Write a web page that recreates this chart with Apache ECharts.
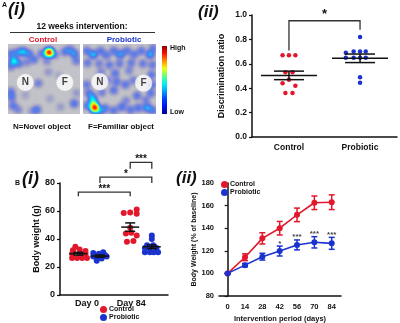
<!DOCTYPE html>
<html>
<head>
<meta charset="utf-8">
<script src="https://cdn.jsdelivr.net/npm/echarts@6/dist/echarts.min.js"></script>
<style>
  html, body { margin: 0; padding: 0; background: #fff; }
  #chart { width: 400px; height: 323px; }
</style>
</head>
<body>
<div id="chart"></div>
<script>
const RED = '#e3172b'
const BLUE = '#1a33cf'
const INK = '#111'
const FONT = 'Liberation Sans'

// ---- A(i): tracking heat maps, [x, y, weight] on a 10x10 arena (y up)
const CTRL_HEAT = [
  [0.8, 7.6, 0.9], [0.5, 8.6, 0.5], [1.4, 8.8, 0.5], [2.1, 8.9, 0.7], [2.9, 8.6, 0.5],
  [3.6, 7.8, 0.45], [1.5, 7.2, 0.45], [0.4, 6.8, 0.4], [2.6, 7.4, 0.3], [4.7, 8.6, 0.45],
  [5.7, 8.8, 1.0], [5.7, 8.8, 1.0], [5.7, 8.8, 1.0], [6.5, 8.5, 0.4], [5.4, 7.6, 0.3],
  [7.9, 8.9, 0.45], [8.6, 9.2, 0.45], [9.2, 8.6, 0.6], [9.5, 7.6, 0.4], [0.4, 3.2, 0.4],
  [0.5, 2.4, 0.45], [0.7, 1.2, 0.45], [1.4, 0.6, 0.3], [4.0, 0.6, 0.5], [3.3, 0.4, 0.2],
  [9.2, 1.5, 0.5], [9.5, 3.0, 0.2], [4.2, 4.4, 0.35], [5.6, 6.0, 0.2], [2.4, 2.7, 0.15],
  [5.8, 2.2, 0.15], [7.0, 5.5, 0.12], [7.3, 1.0, 0.18]
]
const PROB_HEAT = [
  [0.5, 9.0, 0.45], [1.4, 8.5, 0.75], [2.4, 9.0, 0.45], [3.2, 8.4, 0.45], [4.2, 9.0, 0.45],
  [5.1, 8.5, 0.65], [6.0, 9.0, 0.45], [7.0, 8.5, 0.45], [8.0, 9.0, 0.45], [9.2, 8.5, 0.7],
  [9.6, 9.4, 0.4], [0.6, 7.3, 0.4], [2.2, 7.2, 0.35], [3.6, 7.0, 0.4], [5.0, 7.2, 0.4],
  [6.6, 7.3, 0.4], [8.2, 7.2, 0.4], [9.5, 7.0, 0.4], [4.4, 5.8, 0.45], [4.6, 4.6, 0.45],
  [4.2, 3.4, 0.45], [5.8, 4.2, 0.45], [6.9, 4.8, 0.35], [9.4, 5.6, 0.45], [9.5, 4.2, 0.45],
  [9.3, 3.0, 0.45], [0.5, 4.2, 0.4], [0.8, 3.0, 0.45], [2.6, 3.1, 0.35], [7.4, 2.6, 0.45],
  [6.3, 6.2, 0.3], [2.5, 6.0, 0.3], [3.4, 4.8, 0.3], [5.9, 1.9, 0.3], [3.0, 0.8, 0.5],
  [4.2, 0.5, 0.45], [5.3, 1.0, 0.5], [6.5, 0.6, 0.45], [7.6, 0.9, 0.5], [8.8, 0.9, 0.7],
  [9.6, 0.5, 0.45], [8.6, 2.0, 0.35], [1.6, 0.9, 1.0], [1.6, 0.9, 1.0], [1.6, 0.9, 1.0],
  [1.4, 1.7, 0.9], [1.3, 2.4, 0.6], [0.6, 1.2, 0.5], [2.3, 0.4, 0.5]
]
const CTRL_OBJECTS = [[2.4, 4.5, 'N'], [7.9, 4.5, 'F']]
const PROB_OBJECTS = [[2.3, 4.6, 'N'], [8.3, 4.4, 'F']]
const HEAT_COLORS = ['#00008c', '#0010f0', '#0040ff', '#00a0ff', '#00f0f0', '#60ff80', '#f0ff10', '#ff9000', '#ff1000', '#8c0000']

// ---- A(ii): discrimination ratio
const DR_GROUPS = ['Control', 'Probiotic']
const DR_CTRL = [0.67, 0.67, 0.67, 0.53, 0.53, 0.47, 0.44, 0.42, 0.36, 0.36]
const DR_CTRL_X = [-0.09, 0, 0.09, -0.05, 0.05, 0, -0.09, 0.09, -0.05, 0.05]
const DR_PROB = [0.82, 0.70, 0.70, 0.70, 0.69, 0.65, 0.65, 0.65, 0.65, 0.49, 0.445]
const DR_PROB_X = [0, -0.09, 0, 0.08, -0.2, -0.2, -0.09, 0, 0.08, 0, 0]
const DR_MEAN = [0.505, 0.645]
const DR_SEM = [0.035, 0.035]
const DR_BRACKET = [[1, 2, 0.953, 0.71, 0.88, '*']]

// ---- B(i): body weight (g)
const BW_DAYS = ['Day 0', 'Day 84']
const BW_DAY_POS = [1.25, 3.3]
const BW_POS = [0.85, 1.85, 3.25, 4.25] // control d0, probiotic d0, control d84, probiotic d84
const BW_VALUES = [
  [26.5, 26.5, 26.5, 26.5, 29.5, 29.5, 29.5, 32, 32.5, 31.5, 34.5],
  [30, 27.5, 27.5, 24.5, 27.5, 30.5, 28.5, 27.5, 26, 29.5],
  [58.5, 59, 61, 58, 48, 44, 44.5, 42.5, 38, 38.5],
  [42.5, 40, 35.5, 35.5, 33.5, 33.5, 33.5, 30.5, 30.5, 30.5, 30.5]
]
const BW_JITTER = [
  [-0.29, -0.06, 0.17, 0.40, -0.29, 0.10, 0.33, -0.25, 0.06, 0.33, -0.14],
  [-0.31, -0.31, -0.15, -0.15, 0, 0.15, 0.23, 0.31, 0.08, -0.05],
  [-0.30, 0, 0.30, 0.30, 0, -0.20, 0.05, 0.30, -0.15, 0.15],
  [0, 0, -0.22, 0.06, -0.32, -0.09, 0.22, -0.32, -0.09, 0.09, 0.29]
]
const BW_MEAN = [29.5, 27.8, 48.5, 34.4]
const BW_SEM = [1, 0.8, 3, 1.3]
const BW_BRACKETS = [
  [0.85, 3.25, 73.5, 70.5, 70.5, '***'],
  [1.85, 4.25, 84.2, 80, 80, '*'],
  [3.25, 4.25, 94.7, 90.2, 90.2, '***']
]

// ---- B(ii): body weight (% of baseline)
const DAYS = [0, 14, 28, 42, 56, 70, 84]
const PCT_CTRL = [100, 114.3, 131, 140, 151.8, 162.5, 163]
const PCT_CTRL_ERR = [0, 3, 5, 6, 6, 6, 6.5]
const PCT_PROB = [100, 107.3, 114.8, 119.8, 125.2, 127.5, 126.6]
const PCT_PROB_ERR = [0, 1.5, 3, 4.4, 4.4, 5, 5.3]
const PCT_STARS = [[42, 126, '*'], [56, 132.5, '***'], [70, 135, '***'], [84, 134.5, '***']]

echarts.registerMap('arena', {
  type: 'FeatureCollection',
  features: [{
    type: 'Feature',
    properties: { name: 'arena' },
    geometry: { type: 'Polygon', coordinates: [[[0, 0], [10, 0], [10, 10], [0, 10], [0, 0]]] }
  }]
})

const chart = echarts.init(document.getElementById('chart'), null, { renderer: 'canvas' })

const bold = (size, color) => ({ fontFamily: FONT, fontWeight: 'bold', fontSize: size, color: color || INK })

const arena = (left, width) => ({
  map: 'arena', left, top: 44, width, height: 70, aspectScale: 1, roam: false, silent: true,
  itemStyle: { areaColor: '#c2c3c9', borderWidth: 0 },
  emphasis: { disabled: true }, select: { disabled: true }, label: { show: false }
})

const valueAxis = (gridIndex, min, max, interval, fmt, size) => ({
  type: 'value', gridIndex, min, max, interval,
  axisLine: { show: true, lineStyle: { color: INK, width: 1.5 } },
  axisTick: { show: true, length: 3, lineStyle: { color: INK, width: 1.2 } },
  axisLabel: { ...bold(size), margin: 5, formatter: fmt },
  splitLine: { show: false }
})

const xAxisWith = (gridIndex, min, max, values, fmt, size, margin) => ({
  type: 'value', gridIndex, min, max,
  axisLine: { show: true, onZero: false, lineStyle: { color: INK, width: 1.5 } },
  axisTick: { show: false },
  axisLabel: { ...bold(size), margin, customValues: values, formatter: fmt },
  splitLine: { show: false }
})

function meanSem(hwMean, hwSem) {
  return (params, api) => {
    const x = api.value(0), m = api.value(1), s = api.value(2)
    const c = api.coord([x, m]), hi = api.coord([x, m + s]), lo = api.coord([x, m - s])
    const style = { stroke: INK, lineWidth: 1.5 }
    return {
      type: 'group',
      children: [
        { type: 'line', shape: { x1: c[0] - hwMean, y1: c[1], x2: c[0] + hwMean, y2: c[1] }, style },
        { type: 'line', shape: { x1: c[0] - hwSem, y1: hi[1], x2: c[0] + hwSem, y2: hi[1] }, style },
        { type: 'line', shape: { x1: c[0] - hwSem, y1: lo[1], x2: c[0] + hwSem, y2: lo[1] }, style },
        { type: 'line', shape: { x1: c[0], y1: hi[1], x2: c[0], y2: lo[1] }, style }
      ]
    }
  }
}

function bracket(fontSize, lift) {
  return (params, api) => {
    const a = api.coord([api.value(0), api.value(2)])
    const b = api.coord([api.value(1), api.value(2)])
    const la = api.coord([api.value(0), api.value(3)])
    const lb = api.coord([api.value(1), api.value(4)])
    return {
      type: 'group',
      children: [
        { type: 'polyline', shape: { points: [[la[0], la[1]], [a[0], a[1]], [b[0], b[1]], [lb[0], lb[1]]] },
          style: { stroke: '#333', lineWidth: 1.3, fill: null } },
        { type: 'text', style: { text: api.value(5), x: (a[0] + b[0]) / 2, y: a[1] - lift,
          textAlign: 'center', textVerticalAlign: 'middle', fill: INK,
          font: `bold ${fontSize}px "${FONT}"` } }
      ]
    }
  }
}

function errorBars(color) {
  return (params, api) => {
    const top = api.coord([api.value(0), api.value(2)])
    const bot = api.coord([api.value(0), api.value(1)])
    const style = { stroke: color, lineWidth: 1.5 }
    return {
      type: 'group',
      children: [
        { type: 'line', shape: { x1: top[0], y1: top[1], x2: bot[0], y2: bot[1] }, style },
        { type: 'line', shape: { x1: top[0] - 3, y1: top[1], x2: top[0] + 3, y2: top[1] }, style },
        { type: 'line', shape: { x1: bot[0] - 3, y1: bot[1], x2: bot[0] + 3, y2: bot[1] }, style }
      ]
    }
  }
}

const heatSeries = (geoIndex, data) => ({
  type: 'heatmap', coordinateSystem: 'geo', geoIndex, data, silent: true,
  pointSize: 3, blurSize: 5, minOpacity: 0, maxOpacity: 2.4
})

const objectSeries = (geoIndex, data) => ({
  type: 'scatter', coordinateSystem: 'geo', geoIndex, data, z: 5, silent: true,
  symbolSize: 17, itemStyle: { color: '#fff', borderColor: '#ddd', borderWidth: 0.5 },
  label: { show: true, position: 'inside', formatter: p => p.value[2], ...bold(10) }
})

const legendAt = (left, top) => ({
  data: ['Control', 'Probiotic'], orient: 'vertical', left, top, padding: 0,
  itemWidth: 7, itemHeight: 7, itemGap: 1, icon: 'circle', selectedMode: false,
  textStyle: { ...bold(7), padding: [0, 0, 0, -3] }
})

const colorStops = HEAT_COLORS.map((c, i) => ({ offset: i / (HEAT_COLORS.length - 1), color: c }))

const bwSeries = [0, 1, 2, 3].map(g => ({
  name: g % 2 === 0 ? 'Control' : 'Probiotic',
  type: 'scatter', xAxisIndex: 1, yAxisIndex: 1, symbolSize: 6,
  itemStyle: { color: g % 2 === 0 ? RED : BLUE, opacity: 1 },
  data: BW_VALUES[g].map((v, i) => [BW_POS[g] + BW_JITTER[g][i], v])
}))

chart.setOption({
  backgroundColor: '#fff',
  animation: false,
  textStyle: { fontFamily: FONT },
  geo: [arena(8, 72), arena(83, 73)],
  visualMap: {
    type: 'continuous', show: false, min: 0, max: 1, seriesIndex: [0, 1],
    inRange: { color: HEAT_COLORS }
  },
  legend: [legendAt(100, 306), legendAt(221, 181)],
  grid: [
    { left: 252, top: 15, width: 145, height: 122, outerBoundsMode: 'none' },
    { left: 60, top: 183, width: 108, height: 112, outerBoundsMode: 'none' },
    { left: 219, top: 183, width: 122, height: 113, outerBoundsMode: 'none' }
  ],
  xAxis: [
    xAxisWith(0, 0.48, 2.52, [1, 2], v => DR_GROUPS[Math.round(v) - 1], 8.5, 6),
    xAxisWith(1, 0, 5, BW_DAY_POS, v => BW_DAYS[BW_DAY_POS.indexOf(v)], 9, 4),
    { ...xAxisWith(2, -7, 91.5, DAYS, v => v, 7.5, 7),
      name: 'Intervention period (days)', nameLocation: 'middle', nameGap: 19, nameTextStyle: bold(7.5) }
  ],
  yAxis: [
    { ...valueAxis(0, 0, 1, 0.2, v => v.toFixed(1), 8.5),
      name: 'Discrimination ratio', nameLocation: 'middle', nameGap: 26, nameTextStyle: bold(9) },
    { ...valueAxis(1, 0, 80, 20, v => v, 9),
      name: 'Body weight (g)', nameLocation: 'middle', nameGap: 19, nameTextStyle: bold(9) },
    { ...valueAxis(2, 80, 180, 20, v => v, 7.5),
      name: 'Body Weight (% of baseline)', nameLocation: 'middle', nameGap: 19, nameTextStyle: bold(7) }
  ],
  series: [
    heatSeries(0, CTRL_HEAT),
    heatSeries(1, PROB_HEAT),
    objectSeries(0, CTRL_OBJECTS),
    objectSeries(1, PROB_OBJECTS),

    { name: 'Control', type: 'scatter', xAxisIndex: 0, yAxisIndex: 0, symbolSize: 4.5,
      itemStyle: { color: RED, opacity: 1 }, data: DR_CTRL.map((v, i) => [1 + DR_CTRL_X[i], v]) },
    { name: 'Probiotic', type: 'scatter', xAxisIndex: 0, yAxisIndex: 0, symbolSize: 4.5,
      itemStyle: { color: BLUE, opacity: 1 }, data: DR_PROB.map((v, i) => [2 + DR_PROB_X[i], v]) },
    { type: 'custom', xAxisIndex: 0, yAxisIndex: 0, z: 4, silent: true, renderItem: meanSem(28, 15),
      data: DR_MEAN.map((m, i) => [i + 1, m, DR_SEM[i]]) },
    { type: 'custom', xAxisIndex: 0, yAxisIndex: 0, silent: true, renderItem: bracket(13, 6), data: DR_BRACKET },

    ...bwSeries,
    { type: 'custom', xAxisIndex: 1, yAxisIndex: 1, z: 4, silent: true, renderItem: meanSem(9, 5),
      data: BW_MEAN.map((m, i) => [BW_POS[i], m, BW_SEM[i]]) },
    { type: 'custom', xAxisIndex: 1, yAxisIndex: 1, silent: true, clip: false, renderItem: bracket(10, 3), data: BW_BRACKETS },

    { type: 'custom', xAxisIndex: 2, yAxisIndex: 2, silent: true, renderItem: errorBars(RED),
      data: DAYS.map((d, i) => [d, PCT_CTRL[i] - PCT_CTRL_ERR[i], PCT_CTRL[i] + PCT_CTRL_ERR[i]]) },
    { type: 'custom', xAxisIndex: 2, yAxisIndex: 2, silent: true, renderItem: errorBars(BLUE),
      data: DAYS.map((d, i) => [d, PCT_PROB[i] - PCT_PROB_ERR[i], PCT_PROB[i] + PCT_PROB_ERR[i]]) },
    { name: 'Control', type: 'line', xAxisIndex: 2, yAxisIndex: 2, symbol: 'circle', symbolSize: 6,
      itemStyle: { color: RED }, lineStyle: { color: RED, width: 1.6 },
      data: DAYS.map((d, i) => [d, PCT_CTRL[i]]) },
    { name: 'Probiotic', type: 'line', xAxisIndex: 2, yAxisIndex: 2, symbol: 'circle', symbolSize: 6,
      itemStyle: { color: BLUE }, lineStyle: { color: BLUE, width: 1.6 },
      data: DAYS.map((d, i) => [d, PCT_PROB[i]]) },
    { type: 'scatter', xAxisIndex: 2, yAxisIndex: 2, symbolSize: 0, silent: true,
      data: PCT_STARS.map(s => [s[0], s[1], s[2]]),
      label: { show: true, position: 'inside', formatter: p => p.value[2], ...bold(8) } }
  ],
  graphic: [
    { type: 'text', left: 2, top: 2, style: { text: 'A', font: `bold 7px "${FONT}"`, fill: INK } },
    { type: 'text', left: 8, top: 1, style: { text: '(i)', font: `italic bold 18px "${FONT}"`, fill: INK } },
    { type: 'text', left: 198, top: 4, style: { text: '(ii)', font: `italic bold 17px "${FONT}"`, fill: INK } },
    { type: 'text', left: 15, top: 180, style: { text: 'B', font: `bold 7px "${FONT}"`, fill: INK } },
    { type: 'text', left: 22, top: 170, style: { text: '(i)', font: `italic bold 18px "${FONT}"`, fill: INK } },
    { type: 'text', left: 176, top: 170, style: { text: '(ii)', font: `italic bold 17px "${FONT}"`, fill: INK } },
    { type: 'text', x: 82, y: 27, style: { text: '12 weeks intervention:', font: `bold 8.5px "${FONT}"`, fill: INK, textAlign: 'center', textVerticalAlign: 'middle' } },
    { type: 'line', shape: { x1: 10, y1: 32.5, x2: 155, y2: 32.5 }, style: { stroke: '#333', lineWidth: 1 } },
    { type: 'text', x: 43, y: 39.5, style: { text: 'Control', font: `bold 8px "${FONT}"`, fill: RED, textAlign: 'center', textVerticalAlign: 'middle' } },
    { type: 'text', x: 124, y: 39.5, style: { text: 'Probiotic', font: `bold 8px "${FONT}"`, fill: BLUE, textAlign: 'center', textVerticalAlign: 'middle' } },
    { type: 'text', x: 13, y: 127, style: { text: 'N=Novel object', font: `bold 8px "${FONT}"`, fill: INK, textVerticalAlign: 'middle' } },
    { type: 'text', x: 88, y: 127, style: { text: 'F=Familiar object', font: `bold 8px "${FONT}"`, fill: INK, textVerticalAlign: 'middle' } },
    { type: 'rect', shape: { x: 162, y: 46, width: 5, height: 68 },
      style: { fill: new echarts.graphic.LinearGradient(0, 1, 0, 0, colorStops) } },
    { type: 'text', x: 170, y: 48, style: { text: 'High', font: `bold 7px "${FONT}"`, fill: INK, textVerticalAlign: 'middle' } },
    { type: 'text', x: 170, y: 112.5, style: { text: 'Low', font: `bold 7px "${FONT}"`, fill: INK, textVerticalAlign: 'middle' } }
  ]
})
</script>
</body>
</html>
